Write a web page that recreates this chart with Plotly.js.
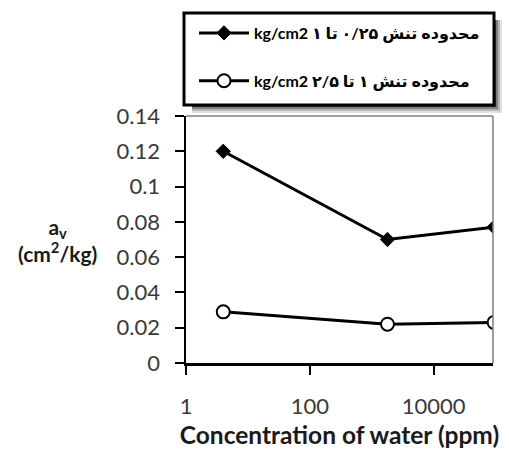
<!DOCTYPE html>
<html>
<head>
<meta charset="utf-8">
<script src="https://cdn.plot.ly/plotly-3.0.1.min.js"></script>
<style>html,body{margin:0;padding:0;background:#fff;}#chart{width:509px;height:451px;}</style>
</head>
<body>
<div id="chart"></div>
<script>
// Data
var concentration = [4, 1800, 95000];           // ppm (log axis)
var avLowRange = [0.12, 0.070, 0.077];          // 0.25 - 1 kg/cm2
var avHighRange = [0.029, 0.022, 0.023];        // 1 - 2.5 kg/cm2
var seriesNames = ['kg/cm2 محدوده تنش ۰/۲۵ تا ۱', 'kg/cm2 محدوده تنش ۱ تا ۲/۵'];
var xTickVals = [1, 100, 10000];
var xTickText = ['1', '100', '10000'];
var yTickVals = [0, 0.02, 0.04, 0.06, 0.08, 0.1, 0.12, 0.14];
var yTickText = ['0', '0.02', '0.04', '0.06', '0.08', '0.1', '0.12', '0.14'];

var tickFont = {family: 'Lato, "Open Sans", sans-serif', size: 22, color: '#3a3a3a'};
var legFont = {family: 'Lato, "DejaVu Sans", sans-serif', size: 16, color: '#000', weight: 'bold'};

var traces = [
  {x: concentration, y: avLowRange, name: seriesNames[0], type: 'scatter', mode: 'lines+markers',
   legendgroup: 'a',
   line: {color: '#000', width: 3},
   marker: {symbol: 'diamond', size: 11, color: '#000', line: {color: '#000', width: 1}}},
  {x: concentration, y: avHighRange, name: seriesNames[1], type: 'scatter', mode: 'lines+markers',
   legendgroup: 'b',
   line: {color: '#000', width: 3},
   marker: {symbol: 'circle', size: 13, color: '#fff', line: {color: '#000', width: 2}}}
];

var shapes = [];
// legend shadow (soft)
var sh = [[0.12,8],[0.18,6],[0.3,4],[0.5,2]];
sh.forEach(function(s){
  shapes.push({type:'rect', xref:'paper', yref:'paper', layer:'below',
    x0: (192-186)/307, x1: (494+s[1]-186)/307, y0: (363-(105+s[1]))/247, y1: (363-20)/247,
    fillcolor: 'rgba(0,0,0,'+s[0]+')', line: {width: 0}});
});
// legend box
shapes.push({type:'rect', xref:'paper', yref:'paper',
  x0: (184-186)/307, x1: (494-186)/307, y0: (363-105)/247, y1: (363-13)/247,
  fillcolor: '#fff', line: {color: '#000', width: 3}});
// top/right frame (gray)
shapes.push({type:'line', xref:'paper', yref:'paper', x0:0, x1:1, y0:1, y1:1, line:{color:'#7f7f7f', width:1.5}});
shapes.push({type:'line', xref:'paper', yref:'paper', x0:1, x1:1, y0:0, y1:1, line:{color:'#7f7f7f', width:1.5}});

var layout = {
  width: 509, height: 451,
  margin: {l: 186, r: 16, t: 116, b: 88, pad: 0},
  paper_bgcolor: '#fff', plot_bgcolor: '#fff',
  showlegend: true,
  legend: {x: (194-186)/307, y: (363-16)/247, xanchor: 'left', yanchor: 'top',
    bgcolor: 'rgba(0,0,0,0)', borderwidth: 0, font: legFont, itemwidth: 50,
    tracegroupgap: 24, traceorder: 'grouped'},
  xaxis: {type: 'log', range: [0, 4.96], tickmode: 'array', tickvals: xTickVals, ticktext: xTickText,
    showgrid: false, zeroline: false, showline: true, linecolor: '#000', linewidth: 2.5,
    ticks: 'outside', ticklen: 9, tickwidth: 2, tickcolor: '#000', tickfont: tickFont,
    ticklabelstandoff: 13,
    title: {text: 'Concentration of water (ppm)', font: {family: 'Lato, "Open Sans", sans-serif', size: 24.5, color: '#1a1a1a', weight: 'bold'}, standoff: 9}},
  yaxis: {range: [0, 0.14], tickmode: 'array', tickvals: yTickVals, ticktext: yTickText,
    showgrid: false, zeroline: false, showline: true, linecolor: '#000', linewidth: 2.5,
    ticks: 'outside', ticklen: 9, tickwidth: 2, tickcolor: '#000', tickfont: tickFont,
    ticklabelstandoff: 10},
  shapes: shapes,
  annotations: [{xref: 'paper', yref: 'paper', x: (57-186)/307, y: (363-240)/247, xanchor: 'center', yanchor: 'middle',
    showarrow: false, align: 'center',
    text: '<b>a<sub>v</sub></b><br><b>(cm<sup>2</sup>/kg)</b>',
    font: {family: 'Lato, "Open Sans", sans-serif', size: 21, color: '#1a1a1a'}}]
};

Plotly.newPlot('chart', traces, layout, {displayModeBar: false, staticPlot: true});
</script>
</body>
</html>
